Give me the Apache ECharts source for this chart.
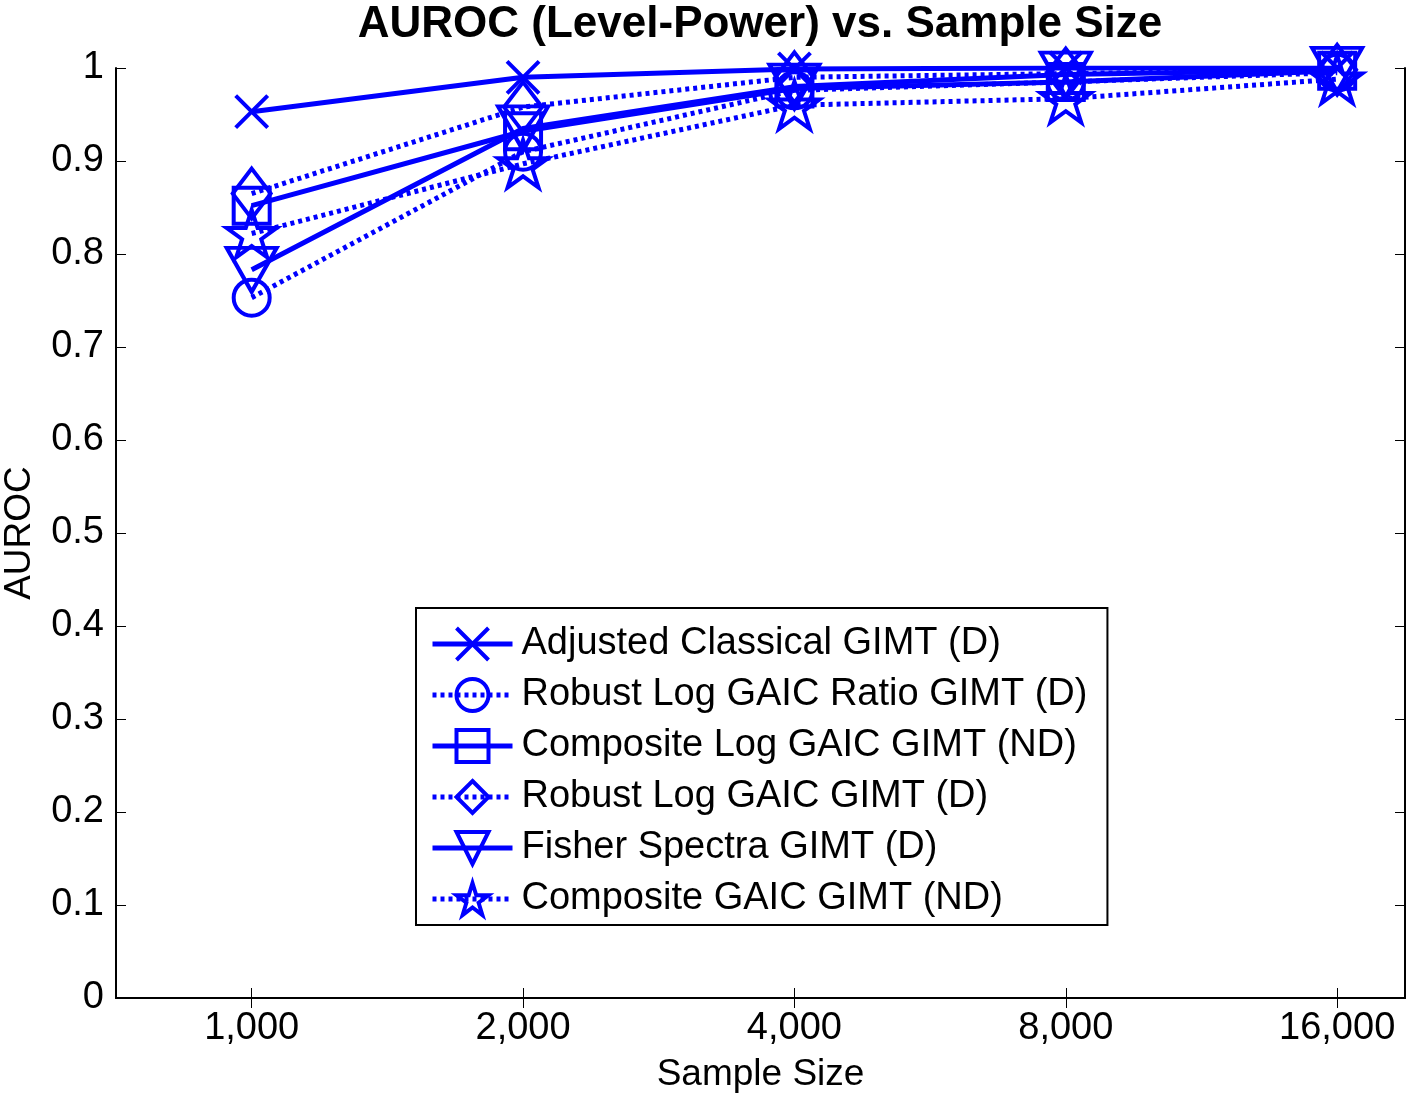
<!DOCTYPE html>
<html lang="en">
<head>
    <meta charset="UTF-8">
    <title>AUROC vs. Sample Size</title>
    <script src="https://cdn.jsdelivr.net/npm/echarts@6/dist/echarts.min.js"></script>
</head>
<body style="margin:0;background:#fff;">
<div id="chart" style="width:1410px;height:1095px;"></div>

<script type="text/javascript">
    // sample sizes on the x axis (plotted at positions 1..5)
    var sampleSizes = ['1,000', '2,000', '4,000', '8,000', '16,000'];
    var yTicks = [0, 0.1, 0.2, 0.3, 0.4, 0.5, 0.6, 0.7, 0.8, 0.9, 1];

    var seriesNames = [
        'Adjusted Classical GIMT (D)',
        'Robust Log GAIC Ratio GIMT (D)',
        'Composite Log GAIC GIMT (ND)',
        'Robust Log GAIC GIMT (D)',
        'Fisher Spectra GIMT (D)',
        'Composite GAIC GIMT (ND)'
    ];

    // values
    var adjustedClassical = [0.953, 0.990, 0.999, 1.000, 1.000];
    var robustRatio       = [0.753, 0.910, 0.976, 0.985, 0.995];
    var compositeLog      = [0.852, 0.932, 0.978, 0.985, 0.997];
    var robustLog         = [0.865, 0.958, 0.990, 0.994, 0.998];
    var fisherSpectra     = [0.783, 0.935, 0.980, 0.993, 0.998];
    var compositeGaic     = [0.822, 0.897, 0.960, 0.967, 0.988];

    var blue = '#0000ff';
    var star = 'path://M50,0L61.23,34.55L97.55,34.55L68.17,55.9L79.39,90.45L50,69.1L20.61,90.45L31.83,55.9L2.45,34.55L38.77,34.55Z';
    var cross = 'path://M0,0L10,10M10,0L0,10';

    function makeSeries(name, values, symbol, size, dotted, rotate) {
        return {
            name: name,
            type: 'line',
            data: values.map(function (v, i) { return [i + 1, v]; }),
            symbol: symbol,
            symbolSize: size,
            symbolRotate: rotate || 0,
            symbolKeepAspect: true,
            showAllSymbol: true,
            lineStyle: {
                color: blue,
                width: 5,
                type: dotted ? [4, 4] : 'solid'
            },
            itemStyle: {
                color: 'rgba(0,0,0,0)',
                borderColor: blue,
                borderWidth: 4
            },
            emphasis: {disabled: true},
            z: 3
        };
    }

    var series = [
        makeSeries(seriesNames[0], adjustedClassical, cross, 32, false),
        makeSeries(seriesNames[1], robustRatio, 'circle', 36, true),
        makeSeries(seriesNames[2], compositeLog, 'rect', 36, false),
        makeSeries(seriesNames[3], robustLog, 'diamond', [38, 50], true),
        makeSeries(seriesNames[4], fisherSpectra, 'triangle', [50, 44], false, 180),
        makeSeries(seriesNames[5], compositeGaic, star, 50, true)
    ];

    var font = 'Liberation Sans, Arial, sans-serif';
    var xTickPos = sampleSizes.map(function (s, i) { return i + 1; });

    var option = {
        animation: false,
        backgroundColor: '#fff',
        textStyle: {fontFamily: font, color: '#000'},
        title: {
            text: 'AUROC (Level-Power) vs. Sample Size',
            left: 755,
            top: -2,
            textAlign: 'center',
            textStyle: {fontFamily: font, fontSize: 44, fontWeight: 'bold', color: '#000'}
        },
        grid: {left: 116, right: 5, top: 68, bottom: 97, containLabel: false, outerBoundsMode: 'none'},
        legend: {
            orient: 'vertical',
            left: 416,
            top: 608,
            padding: [17, 20, 7, 14],
            backgroundColor: '#fff',
            borderColor: '#000',
            borderWidth: 2,
            itemWidth: 80,
            itemHeight: 40,
            itemGap: 13,
            lineStyle: {width: 5},
            itemStyle: {borderWidth: 4},
            textStyle: {fontFamily: font, fontSize: 38, color: '#000', padding: [0, 0, 0, 4]},
            data: seriesNames
        },
        xAxis: [{
            type: 'value',
            min: 0.5,
            max: 5.25,
            name: 'Sample Size',
            nameLocation: 'middle',
            nameGap: 58,
            nameTextStyle: {fontFamily: font, fontSize: 37, color: '#000'},
            axisLine: {show: true, lineStyle: {color: '#000', width: 2}},
            axisTick: {show: true, inside: true, length: 10, customValues: xTickPos, lineStyle: {color: '#000'}},
            axisLabel: {
                customValues: xTickPos,
                margin: 12,
                fontSize: 38,
                color: '#000',
                fontFamily: font,
                formatter: function (v) { return sampleSizes[Math.round(v) - 1] || ''; }
            },
            splitLine: {show: false}
        }, {
            type: 'value',
            position: 'top',
            min: 0.5,
            max: 5.25,
            axisLine: {show: true, lineStyle: {color: '#000', width: 2}},
            axisTick: {show: true, inside: true, length: 10, customValues: xTickPos, lineStyle: {color: '#000'}},
            axisLabel: {show: false},
            splitLine: {show: false}
        }],
        yAxis: [{
            type: 'value',
            min: 0,
            max: 1,
            interval: 0.1,
            name: 'AUROC',
            nameLocation: 'middle',
            nameGap: 78,
            nameTextStyle: {fontFamily: font, fontSize: 37, color: '#000'},
            axisLine: {show: true, lineStyle: {color: '#000', width: 2}},
            axisTick: {show: true, inside: true, length: 10, lineStyle: {color: '#000'}},
            axisLabel: {
                margin: 12,
                fontSize: 38,
                color: '#000',
                fontFamily: font,
                formatter: function (v) {
                    var t = yTicks.filter(function (y) { return Math.abs(y - v) < 1e-6; });
                    return t.length ? String(t[0]) : '';
                }
            },
            splitLine: {show: false}
        }, {
            type: 'value',
            position: 'right',
            min: 0,
            max: 1,
            interval: 0.1,
            axisLine: {show: true, lineStyle: {color: '#000', width: 2}},
            axisTick: {show: true, inside: true, length: 10, lineStyle: {color: '#000'}},
            axisLabel: {show: false},
            splitLine: {show: false}
        }],
        series: series
    };

    var myChart = echarts.init(document.getElementById('chart'));
    myChart.setOption(option);
</script>
</body>
</html>
